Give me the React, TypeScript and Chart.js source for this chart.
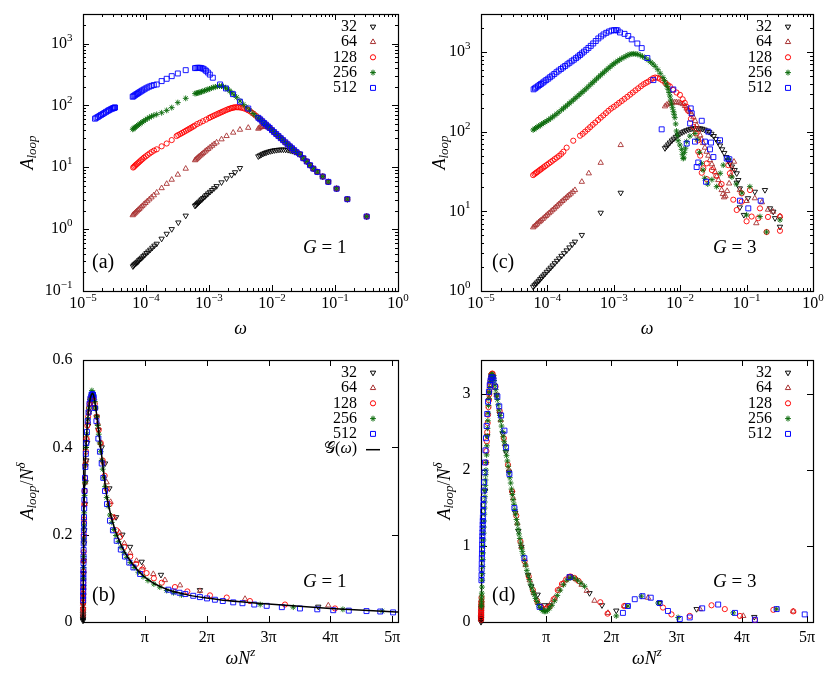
import React, { useEffect, useRef } from "react";
import { Chart, registerables } from "chart.js";

Chart.register(...registerables);

type P = [number, number];
type Seg = { t: string; it?: boolean; sup?: boolean; sub?: boolean };

const FONT = '"Liberation Serif", "DejaVu Serif", serif';
const PI = Math.PI;

// ---------- legend / series ----------
const seriesLabels = ["32", "64", "128", "256", "512"];
const seriesColors = ["#000000", "#a83232", "#ff0000", "#0b6b0b", "#0000ff"];
const seriesStyles = ["triangle", "triangle", "circle", "star", "rect"];
const seriesRotation = [180, 0, 0, 0, 0];
const seriesRadius = [3.1, 3.1, 2.6, 2.9, 3.5];
const lineLabel = "𝒢(ω)";

// ---------- ticks ----------
const logXTicks = [1e-5, 1e-4, 1e-3, 1e-2, 1e-1, 1];
const logXExp = ["−5", "−4", "−3", "−2", "−1", "0"];
const logYTicksA = [0.1, 1, 10, 100, 1000];
const logYExpA = ["−1", "0", "1", "2", "3"];
const logYTicksC = [1, 10, 100, 1000];
const logYExpC = ["0", "1", "2", "3"];
const piTicks = [PI, 2 * PI, 3 * PI, 4 * PI, 5 * PI];
const piLabels = ["π", "2π", "3π", "4π", "5π"];
const yTicksB = [0, 0.2, 0.4, 0.6];
const yLabelsB = ["0", "0.2", "0.4", "0.6"];
const yTicksD = [0, 1, 2, 3];
const yLabelsD = ["0", "1", "2", "3"];

// ---------- panel (a): A_loop vs omega, G = 1 ----------
const a32: P[] = [
  [6.2e-5, 0.25], [6.4e-5, 0.26], [6.6e-5, 0.27], [6.9e-5, 0.28], [7.2e-5, 0.29], [7.5e-5, 0.3], [7.8e-5, 0.315],
  [8.2e-5, 0.33], [8.6e-5, 0.345], [9.1e-5, 0.365], [9.6e-5, 0.385], [1.02e-4, 0.41], [1.09e-4, 0.435], [1.17e-4, 0.465],
  [1.26e-4, 0.5], [1.36e-4, 0.54], [1.48e-4, 0.58], [1.77e-4, 0.7], [2.13e-4, 0.84], [2.56e-4, 1.0], [3.26e-4, 1.28], [4.27e-4, 1.65],
  [6.0e-4, 2.38], [6.2e-4, 2.45], [6.45e-4, 2.55], [6.7e-4, 2.65], [7.0e-4, 2.76], [7.35e-4, 2.9], [7.7e-4, 3.03], [8.1e-4, 3.18],
  [8.6e-4, 3.36], [9.1e-4, 3.55], [9.7e-4, 3.77], [1.04e-3, 4.0], [1.12e-3, 4.28], [1.21e-3, 4.58], [1.32e-3, 4.95],
  [1.58e-3, 5.7], [1.9e-3, 6.6], [2.29e-3, 7.5], [2.59e-3, 8.3], [3.1e-3, 9.7],
  [6.07e-3, 15.0], [6.4e-3, 15.5], [6.8e-3, 16.0], [7.2e-3, 16.5], [7.7e-3, 17.0], [8.2e-3, 17.4], [8.8e-3, 17.8], [9.5e-3, 18.2],
  [1.02e-2, 18.5], [1.1e-2, 18.8], [1.19e-2, 19.0], [1.29e-2, 19.2], [1.4e-2, 19.3], [1.52e-2, 19.3], [1.65e-2, 19.2],
  [1.8e-2, 19.0], [1.95e-2, 18.7], [2.1e-2, 18.3], [2.3e-2, 17.8], [2.5e-2, 17.2],
];
const a64: P[] = [
  [6.15e-5, 1.68], [6.35e-5, 1.74], [6.6e-5, 1.8], [6.85e-5, 1.87], [7.15e-5, 1.95], [7.5e-5, 2.04], [7.85e-5, 2.13],
  [8.25e-5, 2.24], [8.7e-5, 2.36], [9.2e-5, 2.5], [9.8e-5, 2.65], [1.05e-4, 2.83], [1.13e-4, 3.03], [1.22e-4, 3.26],
  [1.33e-4, 3.53], [1.48e-4, 3.9], [1.77e-4, 4.6], [2.13e-4, 5.4], [2.56e-4, 6.3], [3.2e-4, 7.6], [4.27e-4, 9.5],
  [6.0e-4, 13], [6.2e-4, 13.4], [6.45e-4, 13.9], [6.7e-4, 14.4], [7.0e-4, 15], [7.35e-4, 15.6], [7.7e-4, 16.3], [8.1e-4, 17],
  [8.6e-4, 17.9], [9.1e-4, 18.8], [9.7e-4, 19.8], [1.04e-3, 21], [1.12e-3, 22.3], [1.21e-3, 23.7], [1.32e-3, 25.2],
  [1.58e-3, 28.3], [1.9e-3, 32], [2.42e-3, 36.3], [3.1e-3, 40.5], [4.2e-3, 43.5],
  [6.07e-3, 42], [6.3e-3, 43.5], [6.6e-3, 44.5], [6.9e-3, 45], [7.2e-3, 45.3], [7.6e-3, 45.3], [8.0e-3, 45], [8.5e-3, 44.5],
  [9.0e-3, 43.6], [9.6e-3, 41.8],
];
const a128: P[] = [
  [6.25e-5, 9.9], [6.45e-5, 10.2], [6.7e-5, 10.6], [6.95e-5, 11], [7.25e-5, 11.4], [7.6e-5, 11.9], [7.95e-5, 12.4],
  [8.35e-5, 13], [8.8e-5, 13.6], [9.3e-5, 14.3], [9.9e-5, 15], [1.06e-4, 15.8], [1.14e-4, 16.7], [1.23e-4, 17.6],
  [1.34e-4, 18.6], [1.48e-4, 19.5], [1.77e-4, 21.8], [2.13e-4, 24.2], [2.56e-4, 27.5],
  [3.06e-4, 32], [3.25e-4, 33.2], [3.5e-4, 34.5], [3.75e-4, 35.9], [4.0e-4, 37.3], [4.3e-4, 38.9], [4.6e-4, 40.5],
  [4.9e-4, 42], [5.2e-4, 43.5], [5.55e-4, 45.2], [5.9e-4, 47], [6.5e-4, 50], [7.2e-4, 52.6], [8.0e-4, 55.5], [9.0e-4, 59],
  [1.0e-3, 62.5], [1.07e-3, 64.8], [1.15e-3, 67], [1.23e-3, 69.3], [1.32e-3, 71.6], [1.41e-3, 73.8], [1.5e-3, 76],
  [1.6e-3, 78.2], [1.7e-3, 80.5], [1.82e-3, 83], [1.95e-3, 85.5], [2.07e-3, 87.6], [2.2e-3, 89.5], [2.31e-3, 90.8],
  [2.42e-3, 92], [2.55e-3, 92.9], [2.7e-3, 93.5], [2.85e-3, 93.4], [3.0e-3, 93], [3.2e-3, 92.2], [3.4e-3, 91],
  [3.65e-3, 88.8], [3.97e-3, 86], [4.2e-3, 83.5], [4.5e-3, 80], [4.85e-3, 75.8], [5.2e-3, 72], [5.6e-3, 67.5],
];
const a256: P[] = [
  [6.15e-5, 41], [6.35e-5, 42.2], [6.6e-5, 43.5], [6.85e-5, 44.8], [7.15e-5, 46.3], [7.5e-5, 48], [7.85e-5, 49.7],
  [8.25e-5, 51.6], [8.7e-5, 53.6], [9.2e-5, 55.8], [9.8e-5, 58.3], [1.05e-4, 61], [1.13e-4, 63.8], [1.22e-4, 66.5],
  [1.33e-4, 69], [1.48e-4, 71.6], [1.77e-4, 76], [2.13e-4, 83], [2.56e-4, 92], [3.2e-4, 111], [4.27e-4, 130],
  [6.0e-4, 155], [6.3e-4, 157], [6.6e-4, 159], [6.9e-4, 161], [7.2e-4, 163], [7.6e-4, 166], [8.0e-4, 169], [8.5e-4, 173],
  [9.0e-4, 177], [9.6e-4, 181], [1.02e-3, 185], [1.09e-3, 190], [1.17e-3, 195], [1.26e-3, 199], [1.36e-3, 203],
  [1.47e-3, 205], [1.58e-3, 205], [1.7e-3, 200], [1.83e-3, 192], [1.98e-3, 182], [2.14e-3, 171], [2.3e-3, 160],
  [2.5e-3, 148], [2.75e-3, 135], [3.1e-3, 118], [3.5e-3, 104], [3.9e-3, 94], [4.4e-3, 84], [5.0e-3, 74], [5.5e-3, 68],
];
const a512: P[] = [
  [1.55e-5, 61], [1.63e-5, 63], [1.72e-5, 65], [1.82e-5, 67.5], [1.93e-5, 70], [2.05e-5, 72.5], [2.18e-5, 75.5],
  [2.32e-5, 78.5], [2.47e-5, 81.5], [2.6e-5, 84], [2.75e-5, 86.5], [2.9e-5, 88.5], [3.0e-5, 90], [3.1e-5, 91],
  [3.17e-5, 92], [3.22e-5, 92.5],
  [6.15e-5, 138], [6.35e-5, 141], [6.6e-5, 145], [6.85e-5, 149], [7.15e-5, 153], [7.5e-5, 158], [7.85e-5, 163],
  [8.25e-5, 168], [8.7e-5, 174], [9.2e-5, 180], [9.8e-5, 187], [1.05e-4, 194], [1.13e-4, 201], [1.22e-4, 207],
  [1.33e-4, 213], [1.48e-4, 218], [1.77e-4, 247], [2.13e-4, 269], [2.56e-4, 297], [3.2e-4, 328], [4.27e-4, 371],
  [6.0e-4, 400], [6.3e-4, 403], [6.6e-4, 405], [6.9e-4, 405], [7.2e-4, 404], [7.6e-4, 400], [8.0e-4, 393], [8.5e-4, 380],
  [9.0e-4, 362], [9.6e-4, 340], [1.03e-3, 315], [1.15e-3, 280], [1.5e-3, 218], [1.86e-3, 188], [2.4e-3, 152],
  [3.1e-3, 115], [4.2e-3, 89],
];
const aBand: P[] = [
  [6.07e-3, 63], [6.5e-3, 59.5], [7.0e-3, 55.5], [7.5e-3, 52], [8.0e-3, 49], [8.6e-3, 45.8], [9.2e-3, 43.2],
  [1.0e-2, 39.8], [1.08e-2, 37], [1.17e-2, 34.4], [1.27e-2, 31.9], [1.38e-2, 29.5], [1.5e-2, 27.4], [1.63e-2, 25.3],
  [1.77e-2, 23.5], [1.92e-2, 21.8], [2.08e-2, 20.3], [2.25e-2, 18.9], [2.45e-2, 17.5],
];
const aTail: P[] = [
  [2.78e-2, 16.2], [3.14e-2, 14.0], [3.56e-2, 12.4], [4.01e-2, 10.8], [4.53e-2, 9.5], [5.24e-2, 8.4],
  [6.38e-2, 7.08], [7.83e-2, 5.8], [1.06e-1, 4.5], [1.57e-1, 3.05], [3.18e-1, 1.6],
];

// ---------- panel (c): A_loop vs omega, G = 3 ----------
const c32: P[] = [
  [6.1e-5, 1.13], [6.4e-5, 1.18], [6.7e-5, 1.23], [7.0e-5, 1.28], [7.4e-5, 1.34], [7.8e-5, 1.41], [8.2e-5, 1.48],
  [8.7e-5, 1.56], [9.2e-5, 1.64], [9.8e-5, 1.74], [1.05e-4, 1.85], [1.12e-4, 1.96], [1.2e-4, 2.09], [1.29e-4, 2.23],
  [1.39e-4, 2.39], [1.5e-4, 2.56], [1.63e-4, 2.76], [1.78e-4, 2.98], [1.95e-4, 3.23], [2.15e-4, 3.52], [2.37e-4, 3.85],
  [2.6e-4, 4.16], [3.3e-4, 5.05], [6.35e-4, 9.6], [1.27e-3, 17.1],
  [5.9e-3, 62], [6.2e-3, 65], [6.6e-3, 69], [7.0e-3, 73], [7.5e-3, 77.5], [8.0e-3, 81.5], [8.6e-3, 86], [9.2e-3, 90],
  [9.9e-3, 94], [1.07e-2, 98], [1.15e-2, 101], [1.24e-2, 104], [1.34e-2, 106.5], [1.45e-2, 108.5], [1.57e-2, 110],
  [1.7e-2, 110.5], [1.84e-2, 110.5], [1.99e-2, 110], [2.15e-2, 108.5], [2.33e-2, 106], [2.52e-2, 103], [2.73e-2, 99],
  [2.95e-2, 94], [3.2e-2, 88], [3.45e-2, 81], [3.7e-2, 74], [3.98e-2, 67], [4.28e-2, 60], [4.6e-2, 54], [4.95e-2, 48],
  [5.3e-2, 43], [5.6e-2, 40], [6.0e-2, 36.5],
  [6.6e-2, 33], [7.1e-2, 30], [7.1e-2, 22.9], [7.5e-2, 24.7], [7.9e-2, 19.4], [7.9e-2, 11.2], [9.1e-2, 9],
  [1.05e-1, 14.6], [1.33e-1, 17.6], [1.89e-1, 18.5], [2.25e-1, 10.9], [2.52e-1, 9.9], [2.68e-1, 8.2], [3.18e-1, 6.4],
];
const c64: P[] = [
  [6.1e-5, 6.3], [6.4e-5, 6.5], [6.7e-5, 6.75], [7.0e-5, 7.0], [7.4e-5, 7.3], [7.7e-5, 7.5], [8.0e-5, 7.7], [8.5e-5, 8.05],
  [9.0e-5, 8.4], [9.5e-5, 8.75], [1.0e-4, 9.1], [1.06e-4, 9.5], [1.12e-4, 9.9], [1.19e-4, 10.35], [1.26e-4, 10.8],
  [1.33e-4, 11.3], [1.41e-4, 11.8], [1.49e-4, 12.3], [1.58e-4, 12.9], [1.68e-4, 13.5], [1.78e-4, 14.1], [1.89e-4, 14.7],
  [2.0e-4, 15.4], [2.12e-4, 16], [2.25e-4, 16.7], [2.42e-4, 17.6], [2.6e-4, 18.5],
  [3.3e-4, 23.5], [4.2e-4, 30], [6.35e-4, 40.7], [1.27e-3, 68],
  [5.9e-3, 208], [6.26e-3, 218], [6.7e-3, 224], [7.2e-3, 229], [7.7e-3, 232], [8.3e-3, 234], [8.85e-3, 234], [9.5e-3, 232],
  [1.02e-2, 228], [1.1e-2, 222], [1.18e-2, 210], [1.25e-2, 195], [1.33e-2, 185], [1.41e-2, 176], [1.49e-2, 166],
  [1.58e-2, 152], [1.68e-2, 136], [1.78e-2, 120], [1.88e-2, 105], [2.0e-2, 90], [2.1e-2, 80], [2.21e-2, 72],
  [2.35e-2, 63], [2.5e-2, 56], [2.65e-2, 50], [2.8e-2, 44], [3.0e-2, 39], [3.16e-2, 35], [3.35e-2, 31], [3.55e-2, 27.5],
  [3.76e-2, 24.7], [3.98e-2, 21.5], [4.21e-2, 18.5], [4.4e-2, 16.5], [4.57e-2, 15], [4.8e-2, 15.5], [5.1e-2, 18],
  [5.45e-2, 22.4], [5.8e-2, 28], [6.1e-2, 34], [6.46e-2, 42],
  [7.9e-2, 18.5], [1.0e-1, 13.5], [1.33e-1, 14.6], [1.4e-1, 7.1], [1.7e-1, 13], [2.1e-1, 10.5], [2.5e-1, 9.9], [3.18e-1, 8.7],
];
const c128: P[] = [
  [6.1e-5, 28.5], [6.4e-5, 29.4], [6.7e-5, 30.3], [7.0e-5, 31.1], [7.4e-5, 32.2], [7.8e-5, 33.3], [8.2e-5, 34.3],
  [8.7e-5, 35.6], [9.2e-5, 36.8], [9.8e-5, 38.3], [1.05e-4, 39.9], [1.12e-4, 41.5], [1.2e-4, 43.3], [1.29e-4, 45.3],
  [1.39e-4, 47.4], [1.5e-4, 49.7], [1.62e-4, 52.6], [1.74e-4, 56], [1.95e-4, 63], [2.45e-4, 77],
  [3.1e-4, 89], [3.4e-4, 94], [3.7e-4, 100], [4.05e-4, 107], [4.4e-4, 114], [4.8e-4, 122], [5.25e-4, 130],
  [5.8e-4, 140], [6.35e-4, 150], [6.95e-4, 160], [7.6e-4, 171], [8.3e-4, 183], [9.1e-4, 195], [1.0e-3, 205],
  [1.1e-3, 217], [1.2e-3, 230], [1.32e-3, 243], [1.45e-3, 258], [1.6e-3, 274], [1.76e-3, 292], [1.93e-3, 310],
  [2.12e-3, 330], [2.33e-3, 350], [2.56e-3, 372], [2.8e-3, 393], [3.05e-3, 410], [3.3e-3, 425], [3.6e-3, 448],
  [3.9e-3, 468], [4.2e-3, 478], [4.55e-3, 475], [4.95e-3, 462], [5.4e-3, 440], [5.95e-3, 410], [6.5e-3, 385],
  [7.0e-3, 370], [7.8e-3, 335], [8.8e-3, 310], [9.9e-3, 290], [1.09e-2, 255], [1.17e-2, 230], [1.25e-2, 205],
  [1.32e-2, 183], [1.45e-2, 145], [1.58e-2, 115], [1.72e-2, 95], [1.87e-2, 78],
  [1.87e-2, 56], [2.0e-2, 50], [2.11e-2, 30.5], [2.23e-2, 34.7], [2.51e-2, 25.4], [2.51e-2, 40], [3.0e-2, 33],
  [3.5e-2, 28], [4.2e-2, 22], [5.3e-2, 38], [5.6e-2, 30], [6.3e-2, 14], [7.1e-2, 10.4], [8.43e-2, 13.2], [8.43e-2, 16.8],
  [1.0e-1, 7.5], [1.125e-1, 18.5], [1.19e-1, 8.6], [1.5e-1, 8.2], [1.59e-1, 10.9], [2.0e-1, 5.5], [2.1e-1, 8.5],
  [3.18e-1, 5.7], [3.18e-1, 8.6],
];
const c256: P[] = [
  [6.1e-5, 105], [6.4e-5, 108], [6.7e-5, 111], [7.0e-5, 114], [7.4e-5, 117], [7.8e-5, 120], [8.2e-5, 124], [8.7e-5, 128],
  [9.2e-5, 132], [9.8e-5, 136], [1.05e-4, 141], [1.12e-4, 147], [1.2e-4, 153], [1.29e-4, 160], [1.39e-4, 168],
  [1.5e-4, 177], [1.64e-4, 188], [1.75e-4, 197], [1.87e-4, 206], [2.0e-4, 216], [2.14e-4, 227], [2.29e-4, 238],
  [2.45e-4, 250], [2.62e-4, 262], [2.8e-4, 275], [3.0e-4, 289], [3.2e-4, 303], [3.42e-4, 318], [3.66e-4, 334],
  [3.92e-4, 352], [4.2e-4, 372], [4.5e-4, 393], [4.8e-4, 413], [5.15e-4, 436], [5.5e-4, 460], [5.9e-4, 485],
  [6.3e-4, 510], [6.75e-4, 537], [7.2e-4, 563], [7.7e-4, 592], [8.25e-4, 622], [8.8e-4, 652], [9.4e-4, 682],
  [1.0e-3, 712], [1.07e-3, 742], [1.15e-3, 772], [1.23e-3, 800], [1.32e-3, 830], [1.42e-3, 858], [1.52e-3, 885],
  [1.63e-3, 915], [1.75e-3, 935], [1.88e-3, 945], [2.0e-3, 950], [2.15e-3, 945], [2.3e-3, 935], [2.5e-3, 910],
  [2.7e-3, 880], [2.95e-3, 845], [3.3e-3, 790], [3.6e-3, 745], [3.9e-3, 705], [4.2e-3, 660], [4.6e-3, 600],
  [5.0e-3, 540], [5.5e-3, 480], [5.8e-3, 440], [6.1e-3, 400], [6.35e-3, 370], [6.6e-3, 340], [6.8e-3, 310],
  [7.0e-3, 280], [7.2e-3, 250], [7.4e-3, 223], [7.65e-3, 200], [7.9e-3, 180], [8.1e-3, 165], [8.3e-3, 150],
  [8.55e-3, 125], [8.8e-3, 102], [9.05e-3, 90], [9.3e-3, 77], [9.9e-3, 68], [1.05e-2, 60], [1.08e-2, 52],
  [1.11e-2, 46], [1.13e-2, 47], [1.16e-2, 55], [1.2e-2, 62], [1.25e-2, 75], [1.4e-2, 88], [1.67e-2, 95], [1.8e-2, 80],
  [1.95e-2, 55], [2.1e-2, 40], [2.21e-2, 33], [2.34e-2, 26], [2.6e-2, 22], [3.0e-2, 25], [3.54e-2, 20.4], [4.0e-2, 30],
  [4.45e-2, 38], [5.3e-2, 46], [6.0e-2, 27], [7.0e-2, 22], [8.5e-2, 17], [1.0e-1, 9], [1.12e-1, 20.4], [1.59e-1, 8.6],
  [2.0e-1, 5.5], [3.18e-1, 7.8],
];
const c512: P[] = [
  [6.2e-5, 340], [6.5e-5, 350], [6.8e-5, 360], [7.2e-5, 372], [7.6e-5, 385], [8.0e-5, 397], [8.5e-5, 412], [9.0e-5, 427],
  [9.6e-5, 444], [1.03e-4, 463], [1.1e-4, 483], [1.18e-4, 505], [1.27e-4, 530], [1.37e-4, 557], [1.48e-4, 585],
  [1.6e-4, 612], [1.72e-4, 640], [1.85e-4, 668], [2.0e-4, 700], [2.15e-4, 732], [2.32e-4, 765], [2.5e-4, 800],
  [2.7e-4, 838], [2.9e-4, 878], [3.1e-4, 918], [3.3e-4, 960], [3.55e-4, 1010], [3.85e-4, 1065], [4.15e-4, 1125],
  [4.5e-4, 1195], [4.9e-4, 1280], [5.35e-4, 1375], [5.85e-4, 1480], [6.4e-4, 1570], [7.0e-4, 1660], [7.7e-4, 1740],
  [8.5e-4, 1810], [9.3e-4, 1860], [1.01e-3, 1880], [1.08e-3, 1880], [1.14e-3, 1870], [1.24e-3, 1760],
  [1.45e-3, 1690], [1.65e-3, 1590], [1.86e-3, 1440], [2.26e-3, 1280], [2.63e-3, 1120], [3.2e-3, 840],
  [3.94e-3, 444], [5.26e-3, 107], [7.87e-3, 339], [1.253e-2, 71], [1.41e-2, 127], [1.44e-2, 196], [1.49e-2, 170],
  [1.67e-2, 75], [1.77e-2, 36], [1.87e-2, 41], [2.11e-2, 137], [2.36e-2, 75], [2.45e-2, 23.5], [2.65e-2, 100],
  [2.81e-2, 60], [2.91e-2, 73], [3.16e-2, 48], [3.98e-2, 78], [5.02e-2, 46], [5.5e-2, 45], [7.94e-2, 13.6],
  [1.06e-1, 10.9], [1.63e-1, 13.6],
];

// ---------- panel (b): scaled, G = 1 ----------
const b32: P[] = [
  [0.0, 0.003], [0.001, 0.006], [0.0015, 0.008], [0.002, 0.01], [0.0025, 0.012], [0.003, 0.014], [0.004, 0.018],
  [0.005, 0.022], [0.007, 0.03], [0.01, 0.04], [0.015, 0.06], [0.02, 0.08], [0.03, 0.11], [0.04, 0.14], [0.055, 0.18],
  [0.07, 0.21], [0.1, 0.27], [0.13, 0.32], [0.17, 0.37], [0.21, 0.41], [0.26, 0.45], [0.31, 0.48], [0.37, 0.5],
  [0.44, 0.51], [0.52, 0.51], [0.62, 0.49], [0.69, 0.47], [0.78, 0.44], [0.95, 0.4], [1.12, 0.363], [1.34, 0.306],
  [1.68, 0.24], [2.0, 0.2], [2.39, 0.172], [2.98, 0.138], [3.96, 0.108], [5.94, 0.073], [11.95, 0.035],
];
const b64: P[] = [
  [0.002, 0.015], [0.003, 0.02], [0.004, 0.026], [0.005, 0.032], [0.007, 0.042], [0.009, 0.052], [0.012, 0.066],
  [0.015, 0.08], [0.02, 0.1], [0.03, 0.14], [0.045, 0.19], [0.06, 0.23], [0.08, 0.27], [0.11, 0.32], [0.15, 0.37],
  [0.2, 0.42], [0.25, 0.46], [0.3, 0.48], [0.36, 0.5], [0.42, 0.51], [0.5, 0.505], [0.62, 0.49], [0.75, 0.455],
  [0.9, 0.41], [1.05, 0.365], [1.2, 0.32], [1.4, 0.275], [1.6, 0.24], [1.85, 0.205], [2.1, 0.18], [2.4, 0.158],
  [2.72, 0.14], [3.06, 0.125], [3.57, 0.11], [4.16, 0.096], [4.93, 0.084], [5.94, 0.071], [8.23, 0.053], [12.46, 0.038],
];
const b128: P[] = [
  [0.004, 0.03], [0.006, 0.045], [0.008, 0.055], [0.01, 0.065], [0.012, 0.075], [0.015, 0.09], [0.02, 0.115],
  [0.025, 0.14], [0.03, 0.16], [0.04, 0.2], [0.05, 0.235], [0.065, 0.27], [0.08, 0.3], [0.1, 0.33], [0.12, 0.36],
  [0.15, 0.39], [0.18, 0.42], [0.22, 0.45], [0.26, 0.47], [0.3, 0.49], [0.34, 0.5], [0.38, 0.51], [0.42, 0.515],
  [0.46, 0.515], [0.5, 0.51], [0.6, 0.5], [0.7, 0.47], [0.8, 0.44], [0.9, 0.41], [1.0, 0.37], [1.1, 0.335], [1.2, 0.305],
  [1.35, 0.27], [1.5, 0.24], [1.7, 0.21], [1.88, 0.195], [2.1, 0.172], [2.4, 0.15], [2.7, 0.133], [3.0, 0.12],
  [3.23, 0.112], [3.6, 0.1], [4.0, 0.09], [4.67, 0.08], [5.3, 0.07], [6.45, 0.061], [7.3, 0.056], [8.48, 0.048],
  [10.26, 0.04], [12.8, 0.031],
];
const b256: P[] = [
  [0.02, 0.1], [0.025, 0.125], [0.03, 0.15], [0.04, 0.19], [0.05, 0.22], [0.06, 0.25], [0.08, 0.29], [0.1, 0.32],
  [0.13, 0.36], [0.16, 0.4], [0.2, 0.43], [0.25, 0.465], [0.3, 0.49], [0.35, 0.51], [0.4, 0.52], [0.45, 0.53],
  [0.5, 0.525], [0.55, 0.52], [0.6, 0.505], [0.65, 0.49], [0.7, 0.47], [0.75, 0.45], [0.8, 0.43], [0.85, 0.41],
  [0.9, 0.39], [0.95, 0.37], [1.0, 0.35], [1.06, 0.33], [1.12, 0.31], [1.2, 0.285], [1.28, 0.265], [1.37, 0.245],
  [1.46, 0.228], [1.56, 0.212], [1.67, 0.198], [1.8, 0.184], [1.93, 0.171], [2.07, 0.159], [2.22, 0.148], [2.4, 0.136],
  [2.6, 0.125], [2.81, 0.114], [3.05, 0.104], [3.3, 0.095], [3.6, 0.087], [3.9, 0.08], [4.25, 0.072], [4.6, 0.067],
  [5.0, 0.062], [9.0, 0.04], [10.68, 0.034], [13.2, 0.029], [15.2, 0.025],
];
const b512: P[] = [
  [0.008, 0.05], [0.01, 0.06], [0.012, 0.07], [0.014, 0.08], [0.016, 0.09], [0.018, 0.1], [0.02, 0.11], [0.022, 0.12],
  [0.025, 0.135], [0.028, 0.15], [0.031, 0.165], [0.035, 0.18], [0.039, 0.195], [0.043, 0.21], [0.048, 0.225],
  [0.053, 0.24], [0.06, 0.26], [0.07, 0.28], [0.08, 0.3], [0.1, 0.33], [0.12, 0.355], [0.145, 0.385], [0.17, 0.41],
  [0.2, 0.435], [0.24, 0.46], [0.28, 0.48], [0.33, 0.5], [0.38, 0.512], [0.43, 0.52], [0.47, 0.522], [0.51, 0.52],
  [0.55, 0.513], [0.6, 0.49], [0.68, 0.46], [0.78, 0.42], [0.86, 0.39], [0.95, 0.363], [1.03, 0.33], [1.12, 0.3],
  [1.22, 0.27], [1.37, 0.232], [1.52, 0.21], [1.71, 0.186], [1.92, 0.166], [2.13, 0.15], [2.35, 0.136], [2.56, 0.125],
  [2.9, 0.11], [4.33, 0.074], [4.6, 0.07], [4.9, 0.067], [5.2, 0.064], [5.6, 0.06], [5.94, 0.057], [6.3, 0.054],
  [6.7, 0.051], [7.1, 0.048], [7.63, 0.045], [8.1, 0.043], [8.7, 0.04], [9.33, 0.037], [10.1, 0.034], [11.02, 0.031],
  [11.9, 0.029], [12.71, 0.027], [13.5, 0.026], [14.4, 0.025], [15.1, 0.024], [15.75, 0.022],
];
const bG: P[] = [
  [0, 0], [0.01, 0.06], [0.02, 0.12], [0.035, 0.19], [0.05, 0.25], [0.08, 0.31], [0.11, 0.36], [0.15, 0.4], [0.2, 0.44],
  [0.27, 0.478], [0.34, 0.505], [0.42, 0.52], [0.49, 0.524], [0.56, 0.515], [0.65, 0.49], [0.72, 0.465], [0.8, 0.435],
  [0.9, 0.4], [1.03, 0.35], [1.2, 0.29], [1.46, 0.236], [1.8, 0.19], [2.22, 0.152], [2.81, 0.117], [3.4, 0.094],
  [4.25, 0.075], [5.43, 0.061], [6.28, 0.055], [7.3, 0.049], [9.42, 0.041], [12.57, 0.031], [15.7, 0.0235], [16, 0.023],
];

// ---------- panel (d): scaled, G = 3 ----------
const d32: P[] = [
  [0.0, 0.0], [0.002, 0.02], [0.003, 0.03], [0.004, 0.04], [0.005, 0.05], [0.006, 0.06], [0.008, 0.08], [0.01, 0.1],
  [0.015, 0.14], [0.02, 0.18], [0.2, 1.73], [0.3, 2.45], [0.4, 3.02], [0.5, 3.25], [0.6, 3.23], [0.75, 2.99],
  [0.9, 2.74], [1.05, 2.48], [1.2, 2.24], [1.35, 1.98], [1.5, 1.7], [1.65, 1.44], [1.8, 1.2], [1.95, 0.99],
  [2.27, 0.62], [2.42, 0.47], [2.73, 0.36], [3.05, 0.22], [3.3, 0.22], [4.27, 0.6], [5.23, 0.38], [5.83, 0.22],
  [6.52, 0.15], [8.61, 0.25], [10.39, 0.17], [13.17, 0.066],
];
const d64: P[] = [
  [0.004, 0.1], [0.005, 0.11], [0.006, 0.13], [0.008, 0.16], [0.01, 0.19], [0.012, 0.22], [0.014, 0.25], [0.017, 0.29],
  [0.38, 2.95], [0.45, 3.15], [0.52, 3.25], [0.6, 3.23], [0.75, 2.99], [0.95, 2.66], [1.15, 2.34], [1.35, 2.0],
  [1.55, 1.63], [1.75, 1.3], [1.95, 0.99], [2.15, 0.75], [2.35, 0.55], [2.55, 0.38], [2.75, 0.25], [2.95, 0.19],
  [3.15, 0.19], [3.35, 0.24], [3.55, 0.32], [3.75, 0.43], [3.95, 0.51], [4.2, 0.58], [4.4, 0.59], [4.6, 0.56],
  [4.85, 0.49], [5.1, 0.41], [5.47, 0.28], [6.12, 0.12], [6.92, 0.21], [8.05, 0.32], [10.55, 0.17], [12.64, 0.08],
  [15.05, 0.14],
];
const d128: P[] = [
  [0.003, 0.03], [0.005, 0.06], [0.007, 0.09], [0.009, 0.12], [0.011, 0.15], [0.013, 0.18], [0.015, 0.21],
  [0.017, 0.24], [0.02, 0.27], [0.025, 0.32], [0.24, 2.1], [0.26, 2.25], [0.28, 2.38], [0.3, 2.5], [0.32, 2.62],
  [0.34, 2.73], [0.36, 2.83], [0.38, 2.92], [0.4, 3.0], [0.42, 3.07], [0.44, 3.13], [0.46, 3.18], [0.48, 3.22],
  [0.5, 3.25], [0.53, 3.27], [0.56, 3.27], [0.7, 3.1], [0.9, 2.78], [1.1, 2.42], [1.3, 2.07], [1.5, 1.72], [1.7, 1.4],
  [1.9, 1.06], [2.1, 0.8], [2.3, 0.6], [2.5, 0.42], [2.7, 0.28], [2.9, 0.2], [3.1, 0.17], [3.3, 0.2], [3.5, 0.3],
  [3.7, 0.42], [3.9, 0.5], [4.1, 0.56], [4.3, 0.6], [4.5, 0.58], [4.7, 0.54], [5.75, 0.26], [6.1, 0.11], [6.9, 0.21],
  [8.77, 0.19], [9.18, 0.1], [10.06, 0.08], [11.11, 0.22], [11.75, 0.17], [12.48, 0.08], [13.2, 0.026], [14.09, 0.16],
  [15.05, 0.14],
];
const d256: P[] = [
  [0.016, 0.2], [0.02, 0.22], [0.025, 0.26], [0.03, 0.3], [0.035, 0.34], [0.04, 0.38], [0.05, 0.46], [0.06, 0.55],
  [0.07, 0.64], [0.08, 0.73], [0.09, 0.82], [0.1, 0.91], [0.11, 1.0], [0.12, 1.08], [0.13, 1.17], [0.14, 1.25],
  [0.15, 1.33], [0.16, 1.42], [0.17, 1.5], [0.18, 1.58], [0.19, 1.65], [0.2, 1.73], [0.21, 1.8], [0.22, 1.87],
  [0.23, 1.94], [0.24, 2.0], [0.255, 2.1], [0.27, 2.2], [0.285, 2.32], [0.3, 2.45], [0.315, 2.55], [0.33, 2.65],
  [0.345, 2.75], [0.36, 2.85], [0.38, 2.94], [0.4, 3.02], [0.42, 3.09], [0.45, 3.17], [0.48, 3.23], [0.51, 3.26],
  [0.55, 3.26], [0.59, 3.23], [0.63, 3.18], [0.67, 3.12], [0.71, 3.06], [0.75, 2.99], [0.79, 2.93], [0.83, 2.86],
  [0.87, 2.79], [0.91, 2.72], [0.95, 2.65], [0.99, 2.58], [1.03, 2.51], [1.07, 2.44], [1.11, 2.38], [1.15, 2.33],
  [1.19, 2.26], [1.23, 2.19], [1.27, 2.12], [1.31, 2.05], [1.35, 1.97], [1.39, 1.9], [1.43, 1.83], [1.47, 1.75],
  [1.51, 1.68], [1.55, 1.61], [1.59, 1.55], [1.63, 1.48], [1.67, 1.42], [1.71, 1.35], [1.75, 1.29], [1.79, 1.22],
  [1.83, 1.16], [1.87, 1.1], [1.91, 1.04], [1.95, 0.98], [1.99, 0.93], [2.03, 0.88], [2.09, 0.81], [2.15, 0.75],
  [2.21, 0.68], [2.27, 0.62], [2.33, 0.56], [2.39, 0.5], [2.45, 0.45], [2.51, 0.4], [2.57, 0.36], [2.63, 0.31],
  [2.7, 0.27], [2.77, 0.23], [2.84, 0.19], [2.91, 0.17], [2.98, 0.15], [3.05, 0.14], [3.12, 0.14], [3.2, 0.15],
  [3.3, 0.18], [3.42, 0.22], [3.55, 0.28], [3.68, 0.35], [3.82, 0.42], [3.98, 0.49], [4.14, 0.55], [4.3, 0.58],
  [4.47, 0.58], [4.65, 0.55], [4.82, 0.51], [4.99, 0.47], [6.52, 0.08], [7.08, 0.21], [7.73, 0.34], [8.53, 0.25],
  [9.5, 0.06], [12.15, 0.12], [14.25, 0.17],
];
const d512: P[] = [
  [0.02, 0.55], [0.025, 0.62], [0.03, 0.7], [0.035, 0.77], [0.04, 0.84], [0.045, 0.9], [0.05, 0.96], [0.055, 1.02],
  [0.06, 1.08], [0.065, 1.13], [0.07, 1.18], [0.075, 1.23], [0.08, 1.28], [0.085, 1.33], [0.09, 1.38], [0.1, 1.46],
  [0.11, 1.54], [0.12, 1.62], [0.135, 1.73], [0.15, 1.84], [0.17, 1.97], [0.19, 2.1], [0.215, 2.26], [0.24, 2.42],
  [0.27, 2.58], [0.3, 2.74], [0.34, 2.9], [0.38, 3.03], [0.42, 3.12], [0.46, 3.18], [0.5, 3.22], [0.55, 3.22],
  [0.6, 3.19], [0.68, 3.1], [0.79, 2.97], [0.88, 2.84], [0.97, 2.72], [1.13, 2.52], [1.21, 2.3], [1.37, 1.95],
  [1.61, 1.5], [2.09, 0.84], [2.82, 0.2], [4.27, 0.59], [6.84, 0.12], [7.08, 0.21], [7.41, 0.3], [7.78, 0.34],
  [8.18, 0.32], [8.61, 0.25], [9.01, 0.145], [9.58, 0.04], [10.06, 0.06], [10.66, 0.18], [11.43, 0.23], [12.24, 0.12],
  [13.2, 0.03], [14.25, 0.17], [15.6, 0.1],
];

// ---------- drawing helpers ----------
function fontFor(s: Seg, base: number) {
  const size = s.sup || s.sub ? Math.round(base * 0.7) : base;
  return `${s.it ? "italic " : ""}${size}px ${FONT}`;
}
function drawRich(ctx: CanvasRenderingContext2D, segs: Seg[], x: number, y: number, align: string, base: number) {
  ctx.textBaseline = "middle";
  ctx.textAlign = "left";
  let w = 0;
  for (const s of segs) {
    ctx.font = fontFor(s, base);
    w += ctx.measureText(s.t).width;
  }
  let cx = align === "left" ? x : align === "center" ? x - w / 2 : x - w;
  for (const s of segs) {
    ctx.font = fontFor(s, base);
    const dy = s.sup ? -base * 0.36 : s.sub ? base * 0.28 : 0;
    ctx.fillText(s.t, cx, y + dy);
    cx += ctx.measureText(s.t).width;
  }
}
function drawMarker(ctx: CanvasRenderingContext2D, style: string, rot: number, r: number, x: number, y: number) {
  ctx.beginPath();
  if (style === "triangle") {
    let rad = (rot * PI) / 180;
    ctx.moveTo(x + Math.sin(rad) * r, y - Math.cos(rad) * r);
    rad += (2 * PI) / 3;
    ctx.lineTo(x + Math.sin(rad) * r, y - Math.cos(rad) * r);
    rad += (2 * PI) / 3;
    ctx.lineTo(x + Math.sin(rad) * r, y - Math.cos(rad) * r);
    ctx.closePath();
  } else if (style === "circle") {
    ctx.arc(x, y, r, 0, 2 * PI);
  } else if (style === "rect") {
    const s = r / Math.SQRT2;
    ctx.rect(x - s, y - s, 2 * s, 2 * s);
  } else if (style === "star") {
    ctx.moveTo(x - r, y); ctx.lineTo(x + r, y);
    ctx.moveTo(x, y - r); ctx.lineTo(x, y + r);
    const d = r * Math.SQRT1_2;
    ctx.moveTo(x - d, y - d); ctx.lineTo(x + d, y + d);
    ctx.moveTo(x - d, y + d); ctx.lineTo(x + d, y - d);
  }
  ctx.stroke();
}
function logMinor(min: number, max: number) {
  const out: number[] = [];
  for (let e = Math.floor(Math.log10(min)); e <= Math.ceil(Math.log10(max)); e++) {
    for (let m = 2; m <= 9; m++) {
      const v = m * Math.pow(10, e);
      if (v > min * 1.0001 && v < max * 0.9999) out.push(v);
    }
  }
  return out;
}

interface PanelCfg {
  id: string;
  left: number;
  top: number;
  pad: { left: number; top: number; right: number; bottom: number };
  xType: string;
  yType: string;
  xMin: number; xMax: number; yMin: number; yMax: number;
  series: P[][];
  line?: P[];
  xTicks: number[]; xLabels: Seg[][]; xMinor: number[]; xLabelDy: number;
  yTicks: number[]; yLabels: Seg[][]; yMinor: number[];
  xTitle: Seg[]; xTitleY: number;
  yTitle: Seg[]; yTitleX: number;
  letter: string; letterX: number; letterY: number;
  gText: Seg[]; gX: number; gY: number;
}

const TICK_FONT = 16;
const LEGEND_FONT = 16;
const TITLE_FONT = 18;
const LETTER_FONT = 20;
const G_FONT = 19;

function overlay(cfg: PanelCfg) {
  return {
    id: "overlay_" + cfg.id,
    beforeDatasetsDraw(chart: any) {
      const ctx: CanvasRenderingContext2D = chart.ctx;
      const ca = chart.chartArea;
      const xs = chart.scales.x;
      const ys = chart.scales.y;
      const L = Math.round(ca.left), R = Math.round(ca.right), T = Math.round(ca.top), B = Math.round(ca.bottom);
      ctx.save();
      ctx.strokeStyle = "#000";
      ctx.lineWidth = 1;
      ctx.beginPath();
      const tick = (v: number, len: number, axis: string) => {
        if (axis === "x") {
          const p = Math.round(xs.getPixelForValue(v)) + 0.5;
          ctx.moveTo(p, B); ctx.lineTo(p, B - len);
          ctx.moveTo(p, T); ctx.lineTo(p, T + len);
        } else {
          const p = Math.round(ys.getPixelForValue(v)) + 0.5;
          ctx.moveTo(L, p); ctx.lineTo(L + len, p);
          ctx.moveTo(R, p); ctx.lineTo(R - len, p);
        }
      };
      cfg.xTicks.forEach((v) => tick(v, 6, "x"));
      cfg.xMinor.forEach((v) => tick(v, 3, "x"));
      cfg.yTicks.forEach((v) => tick(v, 6, "y"));
      cfg.yMinor.forEach((v) => tick(v, 3, "y"));
      ctx.stroke();
      ctx.lineWidth = 1.2;
      ctx.strokeRect(L + 0.5, T + 0.5, R - L, B - T);
      ctx.restore();
    },
    afterDraw(chart: any) {
      const ctx: CanvasRenderingContext2D = chart.ctx;
      const ca = chart.chartArea;
      const xs = chart.scales.x;
      const ys = chart.scales.y;
      ctx.save();
      ctx.fillStyle = "#000";
      cfg.xTicks.forEach((v, i) => {
        drawRich(ctx, cfg.xLabels[i], xs.getPixelForValue(v), ca.bottom + cfg.xLabelDy, "center", TICK_FONT);
      });
      cfg.yTicks.forEach((v, i) => {
        drawRich(ctx, cfg.yLabels[i], ca.left - 10.5, ys.getPixelForValue(v), "right", TICK_FONT);
      });
      drawRich(ctx, cfg.xTitle, (ca.left + ca.right) / 2, cfg.xTitleY, "center", TITLE_FONT);
      ctx.save();
      ctx.translate(cfg.yTitleX, (ca.top + ca.bottom) / 2);
      ctx.rotate(-PI / 2);
      drawRich(ctx, cfg.yTitle, 0, 0, "center", TITLE_FONT);
      ctx.restore();
      drawRich(ctx, [{ t: cfg.letter }], cfg.letterX, cfg.letterY, "left", LETTER_FONT);
      drawRich(ctx, cfg.gText, cfg.gX, cfg.gY, "left", G_FONT);
      const tx = ca.right - 41;
      const mx = ca.right - 25;
      seriesLabels.forEach((lab, i) => {
        const y = ca.top + 12.7 + i * 15.3;
        ctx.fillStyle = "#000";
        drawRich(ctx, [{ t: lab }], tx, y, "right", LEGEND_FONT);
        ctx.strokeStyle = seriesColors[i];
        ctx.lineWidth = 1;
        drawMarker(ctx, seriesStyles[i], seriesRotation[i], seriesRadius[i], mx, y);
      });
      if (cfg.line) {
        const y = ca.top + 12.7 + 5 * 15.3;
        ctx.fillStyle = "#000";
        drawRich(ctx, [{ t: "𝒢" }, { t: "(" }, { t: "ω", it: true }, { t: ")" }], tx, y, "right", LEGEND_FONT);
        ctx.strokeStyle = "#000";
        ctx.lineWidth = 1.5;
        ctx.beginPath();
        ctx.moveTo(ca.right - 32, y + 0.5);
        ctx.lineTo(ca.right - 18, y + 0.5);
        ctx.stroke();
      }
      ctx.restore();
    },
  };
}

const expLabels = (exps: string[]): Seg[][] => exps.map((e) => [{ t: "10" }, { t: e, sup: true }]);
const plainLabels = (labs: string[]): Seg[][] => labs.map((l) => [{ t: l }]);
const yTitleLog: Seg[] = [{ t: "A", it: true }, { t: "loop", it: true, sub: true }];
const yTitleScaled: Seg[] = [
  { t: "A", it: true }, { t: "loop", it: true, sub: true }, { t: "/" }, { t: "N", it: true }, { t: "δ", it: true, sup: true },
];
const xTitleScaled: Seg[] = [{ t: "ω", it: true }, { t: "N", it: true }, { t: "z", it: true, sup: true }];

const bandFrom = (min: number) => aBand.filter((p) => p[0] >= min);

const panels: PanelCfg[] = [
  {
    id: "a", left: 0, top: 0, pad: { left: 83, top: 14, right: 17, bottom: 55 },
    xType: "logarithmic", yType: "logarithmic", xMin: 1e-5, xMax: 1, yMin: 0.1, yMax: 3000,
    series: [
      [...a32, ...aTail], [...a64, ...bandFrom(1.0e-2), ...aTail], [...a128, ...aBand, ...aTail],
      [...a256, ...aBand, ...aTail], [...a512, ...aBand, ...aTail],
    ],
    xTicks: logXTicks, xLabels: expLabels(logXExp), xMinor: logMinor(1e-5, 1), xLabelDy: 13,
    yTicks: logYTicksA, yLabels: expLabels(logYExpA), yMinor: logMinor(0.1, 3000),
    xTitle: [{ t: "ω", it: true }], xTitleY: 329, yTitle: yTitleLog, yTitleX: 28,
    letter: "(a)", letterX: 92, letterY: 263, gText: [{ t: "G", it: true }, { t: " = 1" }], gX: 303, gY: 248,
  },
  {
    id: "c", left: 415, top: 0, pad: { left: 66, top: 14, right: 17, bottom: 55 },
    xType: "logarithmic", yType: "logarithmic", xMin: 1e-5, xMax: 1, yMin: 1, yMax: 3000,
    series: [c32, c64, c128, c256, c512],
    xTicks: logXTicks, xLabels: expLabels(logXExp), xMinor: logMinor(1e-5, 1), xLabelDy: 13,
    yTicks: logYTicksC, yLabels: expLabels(logYExpC), yMinor: logMinor(1, 3000),
    xTitle: [{ t: "ω", it: true }], xTitleY: 329, yTitle: yTitleLog, yTitleX: 25,
    letter: "(c)", letterX: 77, letterY: 263, gText: [{ t: "G", it: true }, { t: " = 3" }], gX: 298, gY: 248,
  },
  {
    id: "b", left: 0, top: 346, pad: { left: 83, top: 14, right: 17, bottom: 70 },
    xType: "linear", yType: "linear", xMin: 0, xMax: 16, yMin: 0, yMax: 0.6,
    series: [b32, b64, b128, b256, b512], line: bG,
    xTicks: piTicks, xLabels: plainLabels(piLabels), xMinor: [], xLabelDy: 16,
    yTicks: yTicksB, yLabels: plainLabels(yLabelsB), yMinor: [],
    xTitle: xTitleScaled, xTitleY: 313, yTitle: yTitleScaled, yTitleX: 28,
    letter: "(b)", letterX: 92, letterY: 250, gText: [{ t: "G", it: true }, { t: " = 1" }], gX: 303, gY: 236,
  },
  {
    id: "d", left: 415, top: 346, pad: { left: 66, top: 14, right: 17, bottom: 70 },
    xType: "linear", yType: "linear", xMin: 0, xMax: 16, yMin: 0, yMax: 3.45,
    series: [d32, d64, d128, d256, d512],
    xTicks: piTicks, xLabels: plainLabels(piLabels), xMinor: [], xLabelDy: 16,
    yTicks: yTicksD, yLabels: plainLabels(yLabelsD), yMinor: [],
    xTitle: xTitleScaled, xTitleY: 313, yTitle: yTitleScaled, yTitleX: 30,
    letter: "(d)", letterX: 77, letterY: 250, gText: [{ t: "G", it: true }, { t: " = 3" }], gX: 298, gY: 236,
  },
];

const W = 415;
const H = 346;

function Panel({ cfg }: { cfg: PanelCfg }) {
  const ref = useRef<HTMLCanvasElement>(null);
  useEffect(() => {
    if (!ref.current) return;
    const datasets: any[] = cfg.series.map((pts, i) => ({
      label: seriesLabels[i],
      data: pts.map(([x, y]) => ({ x, y })),
      showLine: false,
      pointStyle: seriesStyles[i],
      pointRotation: seriesRotation[i],
      pointRadius: seriesRadius[i],
      pointBorderWidth: 0.9,
      pointBorderColor: seriesColors[i],
      pointBackgroundColor: "rgba(0,0,0,0)",
      order: 5 - i,
      clip: false,
    }));
    if (cfg.line) {
      datasets.push({
        label: lineLabel,
        data: cfg.line.map(([x, y]) => ({ x, y })),
        showLine: true,
        borderColor: "#000",
        borderWidth: 1.5,
        pointRadius: 0,
        cubicInterpolationMode: "monotone",
        order: 0,
        clip: false,
      });
    }
    const chart = new Chart(ref.current, {
      type: "scatter",
      data: { datasets },
      options: {
        animation: false,
        responsive: false,
        events: [],
        layout: { padding: cfg.pad },
        scales: {
          x: { type: cfg.xType as any, min: cfg.xMin, max: cfg.xMax, display: false },
          y: { type: cfg.yType as any, min: cfg.yMin, max: cfg.yMax, display: false },
        },
        plugins: { legend: { display: false }, tooltip: { enabled: false } },
      },
      plugins: [overlay(cfg)],
    });
    return () => chart.destroy();
  }, []);
  return (
    <canvas
      ref={ref}
      width={W}
      height={H}
      style={{ position: "absolute", left: cfg.left, top: cfg.top, width: W, height: H }}
    />
  );
}

export default function App() {
  return (
    <div style={{ position: "absolute", left: 0, top: 0, width: 830, height: 692, background: "#fff" }}>
      {panels.map((p) => (
        <Panel key={p.id} cfg={p} />
      ))}
    </div>
  );
}
